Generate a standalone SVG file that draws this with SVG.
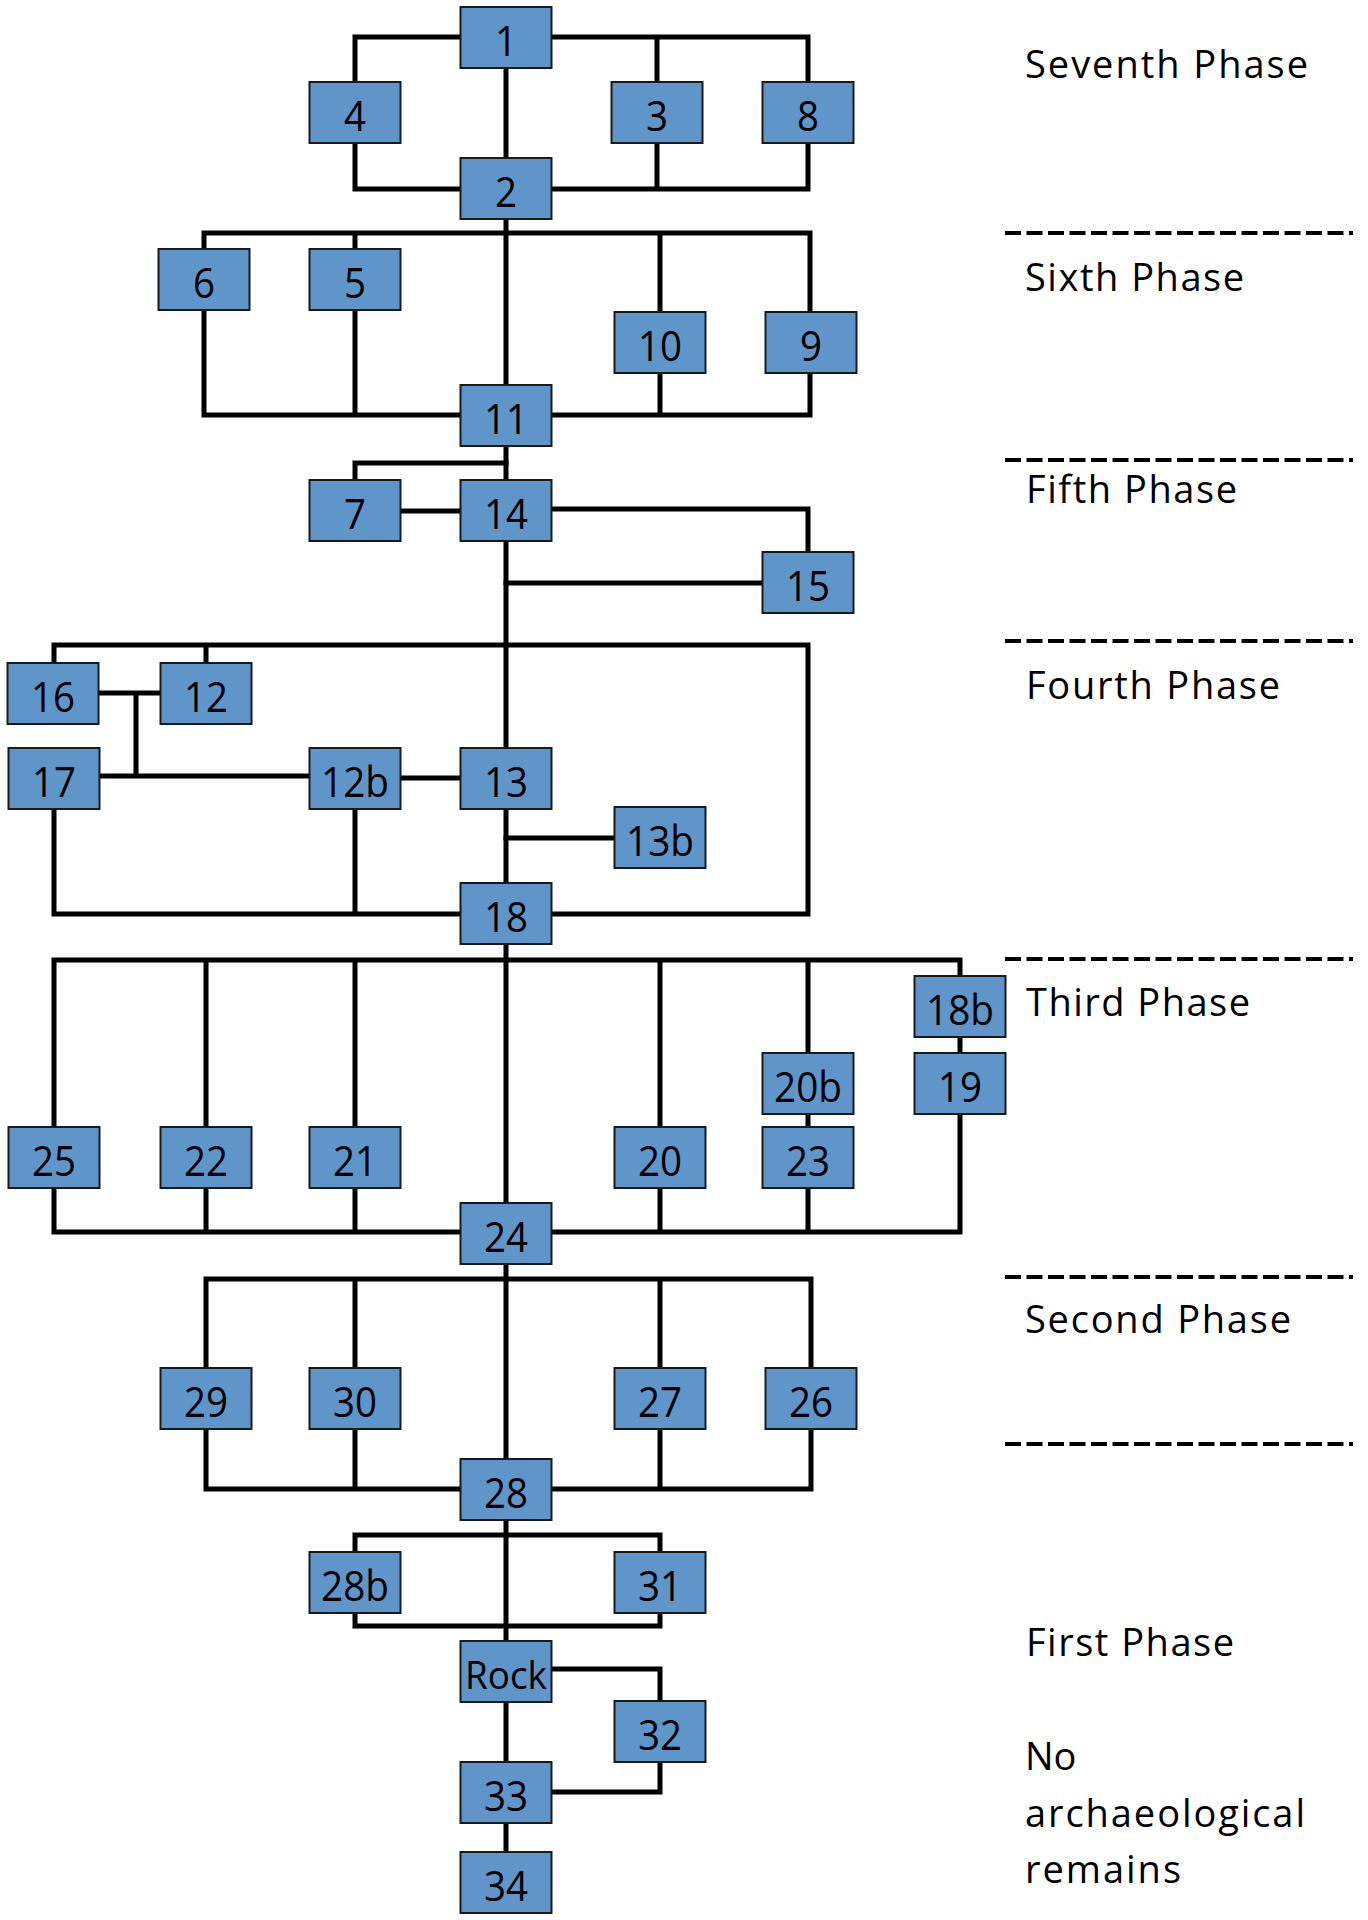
<svg xmlns="http://www.w3.org/2000/svg" width="1368" height="1920" viewBox="0 0 1368 1920">
<style>
.c{fill:none;stroke:#000;stroke-width:5;stroke-linejoin:miter;stroke-linecap:square}
.d{fill:none;stroke:#000;stroke-width:4;stroke-dasharray:16 5.5}
.n rect{fill:#5f95c9;stroke:#1a1a1a;stroke-width:2}
.n text{font-family:"Open Sans","Liberation Sans",sans-serif;font-size:42px;fill:#000;text-anchor:middle}
.p{font-family:"Open Sans","Liberation Sans",sans-serif;font-size:38px;fill:#000}
</style>
<rect width="1368" height="1920" fill="#fff"/>
<g id="phase-lines">
<line class="d" x1="1005" y1="233" x2="1353" y2="233"/>
<line class="d" x1="1005" y1="460" x2="1353" y2="460"/>
<line class="d" x1="1005" y1="641" x2="1353" y2="641"/>
<line class="d" x1="1005" y1="959" x2="1353" y2="959"/>
<line class="d" x1="1005" y1="1277" x2="1353" y2="1277"/>
<line class="d" x1="1005" y1="1444" x2="1353" y2="1444"/>
</g>
<g id="phase-labels">
<text class="p" x="1025" y="78" textLength="283">Seventh Phase</text>
<text class="p" x="1025" y="291" textLength="219">Sixth Phase</text>
<text class="p" x="1026" y="503" textLength="211">Fifth Phase</text>
<text class="p" x="1026" y="699" textLength="254">Fourth Phase</text>
<text class="p" x="1026" y="1016" textLength="224">Third Phase</text>
<text class="p" x="1025" y="1333" textLength="266">Second Phase</text>
<text class="p" x="1026" y="1656" textLength="208">First Phase</text>
<text class="p" x="1025" y="1770">No</text>
<text class="p" x="1025" y="1827" textLength="280">archaeological</text>
<text class="p" x="1025" y="1883" textLength="156">remains</text>
</g>
<g id="connectors">
<line class="c" x1="506" y1="38" x2="506" y2="1882"/>
<path class="c" d="M355 189V37H808V189ZM657 37V189"/>
<path class="c" d="M204 233H810V415H204ZM355 233V415M660 233V415"/>
<path class="c" d="M355 480V463H506M355 511H506M506 509H808V552M506 583H808"/>
<path class="c" d="M54 663V645H808V914H54V776M206 645V663M54 693H206M136 693V776M54 776H355M355 778H506M355 778V914M506 838H660"/>
<path class="c" d="M54 960H960V1232H54ZM206 960V1232M355 960V1232M660 960V1232M808 960V1232"/>
<path class="c" d="M206 1279H811V1489H206ZM355 1279V1489M660 1279V1489"/>
<path class="c" d="M355 1535H660V1626H355Z"/>
<path class="c" d="M506 1669H660V1701M506 1792H660V1761"/>
</g>
<g id="n1" class="n"><rect x="460.5" y="7" width="91" height="61"/><text x="506" y="56" textLength="22" lengthAdjust="spacingAndGlyphs">1</text></g>
<g id="n4" class="n"><rect x="309.5" y="82" width="91" height="61"/><text x="355" y="131" textLength="22" lengthAdjust="spacingAndGlyphs">4</text></g>
<g id="n3" class="n"><rect x="611.5" y="82" width="91" height="61"/><text x="657" y="131" textLength="22" lengthAdjust="spacingAndGlyphs">3</text></g>
<g id="n8" class="n"><rect x="762.5" y="82" width="91" height="61"/><text x="808" y="131" textLength="22" lengthAdjust="spacingAndGlyphs">8</text></g>
<g id="n2" class="n"><rect x="460.5" y="158" width="91" height="61"/><text x="506" y="207" textLength="22" lengthAdjust="spacingAndGlyphs">2</text></g>
<g id="n6" class="n"><rect x="158.5" y="249" width="91" height="61"/><text x="204" y="298" textLength="22" lengthAdjust="spacingAndGlyphs">6</text></g>
<g id="n5" class="n"><rect x="309.5" y="249" width="91" height="61"/><text x="355" y="298" textLength="22" lengthAdjust="spacingAndGlyphs">5</text></g>
<g id="n10" class="n"><rect x="614.5" y="312" width="91" height="61"/><text x="660" y="361" textLength="44" lengthAdjust="spacingAndGlyphs">10</text></g>
<g id="n9" class="n"><rect x="765.5" y="312" width="91" height="61"/><text x="811" y="361" textLength="22" lengthAdjust="spacingAndGlyphs">9</text></g>
<g id="n11" class="n"><rect x="460.5" y="385" width="91" height="61"/><text x="506" y="434" textLength="44" lengthAdjust="spacingAndGlyphs">11</text></g>
<g id="n7" class="n"><rect x="309.5" y="480" width="91" height="61"/><text x="355" y="529" textLength="22" lengthAdjust="spacingAndGlyphs">7</text></g>
<g id="n14" class="n"><rect x="460.5" y="480" width="91" height="61"/><text x="506" y="529" textLength="44" lengthAdjust="spacingAndGlyphs">14</text></g>
<g id="n15" class="n"><rect x="762.5" y="552" width="91" height="61"/><text x="808" y="601" textLength="44" lengthAdjust="spacingAndGlyphs">15</text></g>
<g id="n16" class="n"><rect x="7.5" y="663" width="91" height="61"/><text x="53" y="712" textLength="44" lengthAdjust="spacingAndGlyphs">16</text></g>
<g id="n12" class="n"><rect x="160.5" y="663" width="91" height="61"/><text x="206" y="712" textLength="44" lengthAdjust="spacingAndGlyphs">12</text></g>
<g id="n17" class="n"><rect x="8.5" y="748" width="91" height="61"/><text x="54" y="797" textLength="44" lengthAdjust="spacingAndGlyphs">17</text></g>
<g id="n12b" class="n"><rect x="309.5" y="748" width="91" height="61"/><text x="355" y="797" textLength="68" lengthAdjust="spacingAndGlyphs">12b</text></g>
<g id="n13" class="n"><rect x="460.5" y="748" width="91" height="61"/><text x="506" y="797" textLength="44" lengthAdjust="spacingAndGlyphs">13</text></g>
<g id="n13b" class="n"><rect x="614.5" y="807" width="91" height="61"/><text x="660" y="856" textLength="68" lengthAdjust="spacingAndGlyphs">13b</text></g>
<g id="n18" class="n"><rect x="460.5" y="883" width="91" height="61"/><text x="506" y="932" textLength="44" lengthAdjust="spacingAndGlyphs">18</text></g>
<g id="n18b" class="n"><rect x="914.5" y="976" width="91" height="61"/><text x="960" y="1025" textLength="68" lengthAdjust="spacingAndGlyphs">18b</text></g>
<g id="n20b" class="n"><rect x="762.5" y="1053" width="91" height="61"/><text x="808" y="1102" textLength="68" lengthAdjust="spacingAndGlyphs">20b</text></g>
<g id="n19" class="n"><rect x="914.5" y="1053" width="91" height="61"/><text x="960" y="1102" textLength="44" lengthAdjust="spacingAndGlyphs">19</text></g>
<g id="n25" class="n"><rect x="8.5" y="1127" width="91" height="61"/><text x="54" y="1176" textLength="44" lengthAdjust="spacingAndGlyphs">25</text></g>
<g id="n22" class="n"><rect x="160.5" y="1127" width="91" height="61"/><text x="206" y="1176" textLength="44" lengthAdjust="spacingAndGlyphs">22</text></g>
<g id="n21" class="n"><rect x="309.5" y="1127" width="91" height="61"/><text x="355" y="1176" textLength="44" lengthAdjust="spacingAndGlyphs">21</text></g>
<g id="n20" class="n"><rect x="614.5" y="1127" width="91" height="61"/><text x="660" y="1176" textLength="44" lengthAdjust="spacingAndGlyphs">20</text></g>
<g id="n23" class="n"><rect x="762.5" y="1127" width="91" height="61"/><text x="808" y="1176" textLength="44" lengthAdjust="spacingAndGlyphs">23</text></g>
<g id="n24" class="n"><rect x="460.5" y="1203" width="91" height="61"/><text x="506" y="1252" textLength="44" lengthAdjust="spacingAndGlyphs">24</text></g>
<g id="n29" class="n"><rect x="160.5" y="1368" width="91" height="61"/><text x="206" y="1417" textLength="44" lengthAdjust="spacingAndGlyphs">29</text></g>
<g id="n30" class="n"><rect x="309.5" y="1368" width="91" height="61"/><text x="355" y="1417" textLength="44" lengthAdjust="spacingAndGlyphs">30</text></g>
<g id="n27" class="n"><rect x="614.5" y="1368" width="91" height="61"/><text x="660" y="1417" textLength="44" lengthAdjust="spacingAndGlyphs">27</text></g>
<g id="n26" class="n"><rect x="765.5" y="1368" width="91" height="61"/><text x="811" y="1417" textLength="44" lengthAdjust="spacingAndGlyphs">26</text></g>
<g id="n28" class="n"><rect x="460.5" y="1459" width="91" height="61"/><text x="506" y="1508" textLength="44" lengthAdjust="spacingAndGlyphs">28</text></g>
<g id="n28b" class="n"><rect x="309.5" y="1552" width="91" height="61"/><text x="355" y="1601" textLength="68" lengthAdjust="spacingAndGlyphs">28b</text></g>
<g id="n31" class="n"><rect x="614.5" y="1552" width="91" height="61"/><text x="660" y="1601" textLength="44" lengthAdjust="spacingAndGlyphs">31</text></g>
<g id="nRock" class="n"><rect x="460.5" y="1641" width="91" height="61"/><text x="506" y="1689" textLength="82" lengthAdjust="spacingAndGlyphs" style="font-size:38px">Rock</text></g>
<g id="n32" class="n"><rect x="614.5" y="1701" width="91" height="61"/><text x="660" y="1750" textLength="44" lengthAdjust="spacingAndGlyphs">32</text></g>
<g id="n33" class="n"><rect x="460.5" y="1762" width="91" height="61"/><text x="506" y="1811" textLength="44" lengthAdjust="spacingAndGlyphs">33</text></g>
<g id="n34" class="n"><rect x="460.5" y="1852" width="91" height="61"/><text x="506" y="1901" textLength="44" lengthAdjust="spacingAndGlyphs">34</text></g>
</svg>
